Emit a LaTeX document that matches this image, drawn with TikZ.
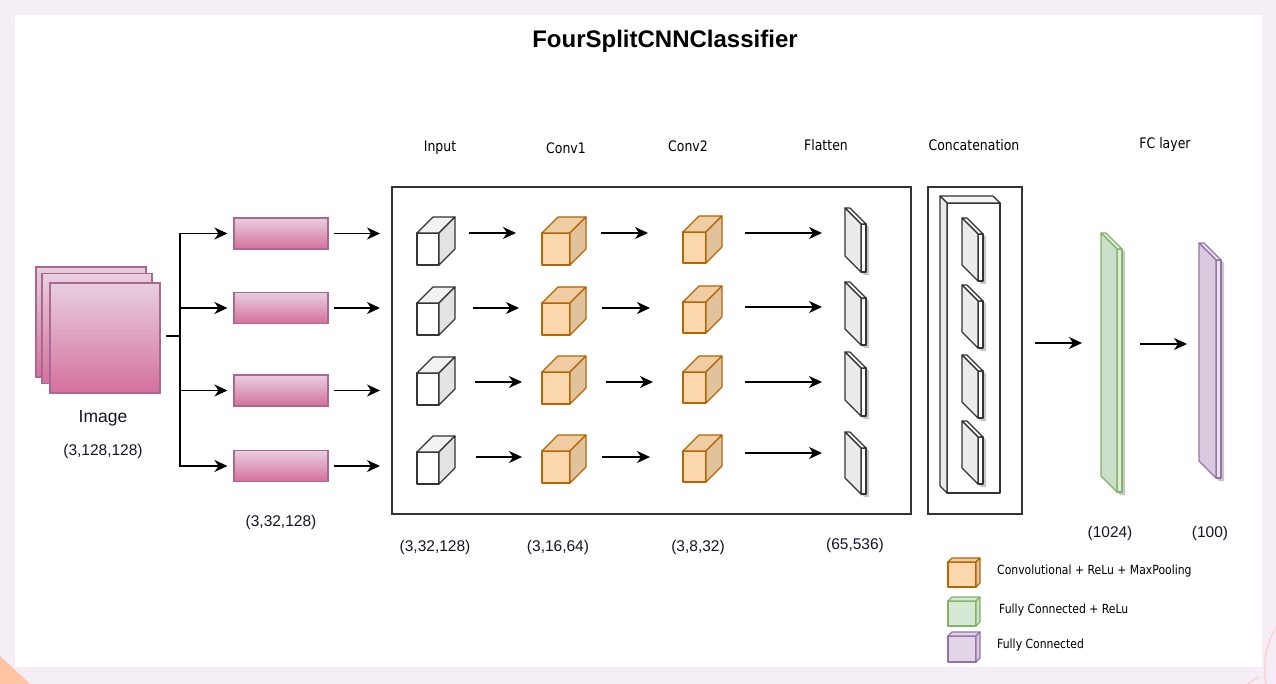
\documentclass[tikz,border=0pt]{standalone}
\usepackage{fontspec}
\setmainfont{Liberation Sans}
\newfontfamily\tah{DejaVu Sans}[FakeStretch=0.86]
\usetikzlibrary{arrows.meta}
\definecolor{bgpink}{HTML}{F5EEF6}
\definecolor{peach}{HTML}{FFC4A3}
\definecolor{arcpink}{HTML}{FFD3D3}
\definecolor{pinktop}{HTML}{E8CFDF}
\definecolor{pinkbot}{HTML}{D4709B}
\definecolor{pinkline}{HTML}{A8688F}
\definecolor{orfront}{HTML}{FAD7AC}
\definecolor{ortop}{HTML}{EFCCA2}
\definecolor{orside}{HTML}{E0C29C}
\definecolor{orline}{HTML}{B46504}
\definecolor{grfront}{HTML}{E0EEDE}
\definecolor{grside}{HTML}{CCDFCA}
\definecolor{grleg}{HTML}{D5E8D4}
\definecolor{grline}{HTML}{82B366}
\definecolor{pufront}{HTML}{EBE2EF}
\definecolor{puside}{HTML}{D9CAE0}
\definecolor{puleg}{HTML}{E1D5E7}
\definecolor{puline}{HTML}{9673A6}
\definecolor{dk}{HTML}{333333}
\definecolor{txt}{HTML}{15152A}
\tikzset{shp/.style={line width=1.15pt,line join=round}}
% cube: front face top-left (#1,#2), width #3, height #4, depth #5 up-right
\newcommand\cubeR[9]{%
  \filldraw[shp,draw=#9,fill=#6] (#1,#2) rectangle ++(#3,#4);
  \filldraw[shp,draw=#9,fill=#7] (#1,#2) -- ++(#5,-#5) -- ++(#3,0) -- ++(-#5,#5) -- cycle;
  \filldraw[shp,draw=#9,fill=#8] (#1+#3,#2) -- ++(#5,-#5) -- ++(0,#4) -- ++(-#5,#5) -- cycle;}
% plate: front face at right, depth #5 up-left
\newcommand\plateL[9]{%
  \filldraw[shp,draw=#9,fill=#6] (#1,#2) rectangle ++(#3,#4);
  \filldraw[shp,draw=#9,fill=#7] (#1,#2) -- ++(-#5,-#5) -- ++(#3,0) -- ++(#5,#5) -- cycle;
  \filldraw[shp,draw=#9,fill=#8] (#1,#2) -- ++(-#5,-#5) -- ++(0,#4) -- ++(#5,#5) -- cycle;}
\newcommand\plshadow[5]{%
  \fill[black,opacity=.22] (#1-#5+3,#2-#5+3) -- ++(#3,0) -- ++(#5,#5) -- ++(0,#4) -- ++(-#3,0) -- ++(-#5,-#5) -- cycle;}
\begin{document}
\begin{tikzpicture}[x=1pt,y=-1pt,
  arr/.style={-{Stealth[length=13pt,width=12pt,inset=4pt]},line width=1.4pt,black},
  ln/.style={line width=1.4pt,black},
  pinkbox/.style={draw=pinkline,line width=1.1pt,top color=pinktop,bottom color=pinkbot,inner sep=0},
  lbl/.style={font=\tah\fontsize{14.5}{17}\selectfont,text=black,inner sep=0},
  num/.style={font=\fontsize{15.5}{18}\selectfont,text=txt,inner sep=0},
  leg/.style={font=\tah\fontsize{12.6}{15}\selectfont,text=black,anchor=west,inner sep=0},
  frame/.style={draw=dk,line width=1.4pt,inner sep=0}]
\useasboundingbox (0,0) rectangle (1276,684);
% background
\fill[bgpink] (0,0) rectangle (1276,684);
\fill[white] (15,15) rectangle (1262,667);
\fill[peach] (0,656) -- (30,684) -- (0,684) -- cycle;
\draw[arcpink,line width=1.6pt] (1276,628) .. controls (1265,645) and (1263,665) .. (1266,684);
\draw[arcpink,line width=1.6pt] (1247,684) -- (1259,677);
% title
\node[font=\bfseries\fontsize{24}{28}\selectfont,inner sep=0] (title) at (665,41) {FourSplitCNNClassifier};
% column labels
\node[lbl] (lin) at (440,148) {Input};
\node[lbl] (lc1) at (566,148) {Conv1};
\node[lbl] (lc2) at (688,146) {Conv2};
\node[lbl] (lfl) at (826,145) {Flatten};
\node[lbl] (lcc) at (974,145) {Concatenation};
\node[lbl] (lfc) at (1165,145) {FC layer};
% image stack
\node[pinkbox,minimum width=110pt,minimum height=110pt] (img3) at (91,322) {};
\node[pinkbox,minimum width=110pt,minimum height=110pt] (img2) at (97,328.5) {};
\node[pinkbox,minimum width=110pt,minimum height=110pt] (img1) at (105,338) {};
\node[font=\fontsize{17.5}{20}\selectfont,text=txt,inner sep=0] (imgl) at (103,418) {Image};
\node[num] (imgd) at (103,451) {(3,128,128)};
% split bars
\foreach \i/\y in {1/233.5,2/308,3/390.5,4/466}{
  \node[pinkbox,minimum width=94pt,minimum height=31pt] (bar\i) at (281,\y) {};
  \coordinate (in\i) at (380,\y);
  \draw[arr] (bar\i.east) ++(5,0) coordinate (bo\i) -- (in\i);
}
\node[num] (bard) at (281,522) {(3,32,128)};
\coordinate (s0) at (166,336);
\coordinate (s1) at (180,336);
\draw[ln] (s0) -- (s1);
\foreach \i in {1,...,4}{\draw[arr,shorten >=6pt] (s1) |- (bar\i.west);}
% frames
\node[frame,minimum width=519pt,minimum height=327pt] (stage) at (651.5,350.5) {};
\node[frame,minimum width=94pt,minimum height=327pt] (concat) at (975,350.5) {};
% input cubes
\foreach \y in {233,303,373,452}{\cubeR{417}{\y}{22}{32}{16}{white}{black!5}{black!11}{dk}}
% conv1 cubes
\foreach \y in {233,303,372,451}{\cubeR{542}{\y}{28}{32}{16}{orfront}{ortop}{orside}{orline}}
% conv2 cubes
\foreach \y in {232,302,372,451}{\cubeR{683}{\y}{23}{31}{16}{orfront}{ortop}{orside}{orline}}
% arrows inside stage
\foreach \i/\y/\a/\b/\c/\d in {1/233/469/516/601/648, 2/308/473/519/602/650, 3/382/475/522/606/653, 4/457/476/522/602/650}{
  \coordinate (p\i a) at (\a,\y); \coordinate (p\i b) at (\b,\y);
  \coordinate (q\i a) at (\c,\y); \coordinate (q\i b) at (\d,\y);
  \draw[arr] (p\i a) -- (p\i b);
  \draw[arr] (q\i a) -- (q\i b);
}
\foreach \i/\y in {1/233,2/307,3/382,4/453}{
  \coordinate (f\i a) at (745,\y); \coordinate (f\i b) at (822,\y);
  \draw[arr] (f\i a) -- (f\i b);
}
% flatten plates
\foreach \y/\h in {224/48,298/47,368/48,448/46}{
  \plshadow{861}{\y}{5}{\h}{16}
  \plateL{861}{\y}{5}{\h}{16}{white}{black!4}{black!8}{dk}}
% concatenation
\plateL{947}{203}{53}{290}{7}{white}{black!4}{black!8}{dk}
\foreach \y in {234,301,371,437}{
  \plshadow{978}{\y}{5}{47}{16}
  \plateL{978}{\y}{5}{47}{16}{white}{black!4}{black!8}{dk}}
% FC layers
\coordinate (g1) at (1035,343); \coordinate (g2) at (1082,343);
\draw[arr] (g1) -- (g2);
\plshadow{1117}{249}{5}{243}{16}
\plateL{1117}{249}{5}{243}{16}{grfront}{grfront}{grside}{grline}
\coordinate (h1) at (1140,344); \coordinate (h2) at (1187,344);
\draw[arr] (h1) -- (h2);
\plshadow{1216}{260}{5}{218}{17}
\plateL{1216}{260}{5}{218}{17}{pufront}{pufront}{puside}{puline}
% dims
\node[num] (d1) at (435,547) {(3,32,128)};
\node[num] (d2) at (558,547) {(3,16,64)};
\node[num] (d3) at (698,547) {(3,8,32)};
\node[num] (d4) at (855,545) {(65,536)};
\node[num] (d5) at (1110,533) {(1024)};
\node[num] (d6) at (1210,533) {(100)};
% legend
\cubeR{948}{562}{28}{25}{4}{orfront}{ortop}{orside}{orline}
\cubeR{948}{601}{28}{25}{4}{grleg}{grleg}{grside}{grline}
\cubeR{948}{636}{28}{26}{4}{puleg}{puleg}{puside}{puline}
\node[leg] (t1) at (997,571) {Convolutional + ReLu + MaxPooling};
\node[leg] (t2) at (999,610) {Fully Connected + ReLu};
\node[leg] (t3) at (997,645) {Fully Connected};
\end{tikzpicture}
\end{document}
